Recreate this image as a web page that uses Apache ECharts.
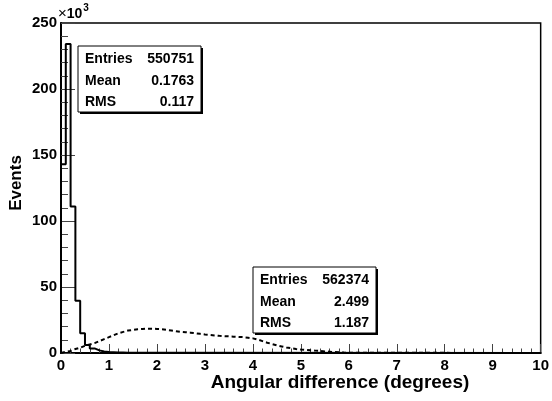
<!DOCTYPE html>
<html>
<head>
<meta charset="utf-8">
<script src="https://cdn.jsdelivr.net/npm/echarts@6/dist/echarts.min.js"></script>
<style>
  html, body { margin: 0; padding: 0; background: #fff; }
  #chart { width: 552px; height: 401px; }
</style>
</head>
<body>
<div id="chart"></div>
<script>
// bin width in degrees, both histograms start at 0
var binWidth = 0.1
// counts per bin, in units of 10^3 events
var narrowCounts = [143, 234, 111, 39.5, 15, 6, 3.5, 2, 1.2, 0.8, 0.6, 0.4, 0.3, 0.2, 0.2, 0.1, 0.1, 0.1, 0.1, 0.1]
var wideCounts = [
  1, 1.5, 3, 4, 5.5, 6.5, 7.5, 9, 10.5, 12,
  13.5, 15, 16, 17, 17.5, 18, 18.2, 18.4, 18.4, 18.2,
  18, 17.5, 17, 16.5, 16, 15.7, 15.4, 15, 14.5, 14,
  13.7, 13.3, 13, 12.8, 12.6, 12.4, 12.2, 12, 11.6, 11.1,
  10.2, 9, 7.8, 6.8, 5.8, 5, 4.2, 3.6, 3, 2.6,
  2.3, 2, 1.8, 1.5, 1.2, 1, 0.7, 0.5, 0.3, 0.2
]
var xTicks = [0, 1, 2, 3, 4, 5, 6, 7, 8, 9, 10]
var yTicks = [0, 50, 100, 150, 200, 250]
var narrowStats = [['Entries', '550751'], ['Mean', '0.1763'], ['RMS', '0.117']]
var wideStats = [['Entries', '562374'], ['Mean', '2.499'], ['RMS', '1.187']]

var FONT = 'Liberation Sans'

function histPoints(counts) {
  var pts = [[0, 0]]
  for (var i = 0; i < counts.length; i++) {
    pts.push([i * binWidth, counts[i]])
  }
  pts.push([counts.length * binWidth, 0])
  pts.push([xTicks[xTicks.length - 1], 0])
  return pts
}

function statBox(x, y, rows) {
  var w = 123, h = 66
  var children = [
    { type: 'rect', shape: { x: x + 2, y: y + 2, width: w, height: h }, style: { fill: '#000' } },
    { type: 'rect', shape: { x: x, y: y, width: w, height: h }, style: { fill: '#fff', stroke: '#000', lineWidth: 1 } }
  ]
  rows.forEach(function (r, i) {
    var cy = y + 13.5 + i * 21.5
    children.push({ type: 'text', x: x + 7, y: cy, style: { text: r[0], font: 'bold 14px ' + FONT, fill: '#000', verticalAlign: 'middle', align: 'left' } })
    children.push({ type: 'text', x: x + w - 7, y: cy, style: { text: r[1], font: 'bold 14px ' + FONT, fill: '#000', verticalAlign: 'middle', align: 'right' } })
  })
  return { type: 'group', children: children, z: 100 }
}

var chart = echarts.init(document.getElementById('chart'))
chart.setOption({
  animation: false,
  grid: { left: 61, right: 5, top: 23, bottom: 48, show: true, borderColor: '#000', borderWidth: 1.5, backgroundColor: 'transparent' },
  xAxis: {
    type: 'value',
    min: xTicks[0],
    max: xTicks[xTicks.length - 1],
    interval: 1,
    axisLine: { onZero: false, lineStyle: { color: '#000', width: 2 } },
    axisTick: { inside: true, length: 9, lineStyle: { color: '#444', width: 1 } },
    minorTick: { show: true, splitNumber: 5, length: 4.5, lineStyle: { color: '#444', width: 1 } },
    splitLine: { show: false },
    axisLabel: { margin: 5, color: '#000', fontFamily: FONT, fontWeight: 'bold', fontSize: 15 }
  },
  yAxis: {
    type: 'value',
    min: yTicks[0],
    max: yTicks[yTicks.length - 1],
    interval: 50,
    axisLine: { show: true, lineStyle: { color: '#000', width: 2 } },
    axisTick: { show: true, inside: true, length: 14, lineStyle: { color: '#444', width: 1 } },
    minorTick: { show: true, splitNumber: 5, length: 7, lineStyle: { color: '#444', width: 1 } },
    splitLine: { show: false },
    axisLabel: { margin: 4, color: '#000', fontFamily: FONT, fontWeight: 'bold', fontSize: 15 }
  },
  series: [
    {
      name: 'narrow',
      type: 'line',
      step: 'end',
      showSymbol: false,
      data: histPoints(narrowCounts),
      lineStyle: { color: '#000', width: 2 }
    },
    {
      name: 'wide',
      type: 'line',
      step: 'end',
      showSymbol: false,
      data: histPoints(wideCounts),
      lineStyle: { color: '#000', width: 2, type: [4, 3] }
    }
  ],
  graphic: [
    statBox(78, 46, narrowStats),
    statBox(253, 267, wideStats),
    {
      type: 'text', x: 340, y: 383,
      style: { text: 'Angular difference (degrees)', font: 'bold 19px ' + FONT, fill: '#000', align: 'center', verticalAlign: 'middle' }
    },
    {
      type: 'text', x: 16, y: 183, rotation: Math.PI / 2,
      style: { text: 'Events', font: 'bold 17px ' + FONT, fill: '#000', align: 'center', verticalAlign: 'middle' }
    },
    {
      type: 'text', x: 58, y: 21,
      style: {
        text: '{x|×}{b|10}{s|3}',
        verticalAlign: 'bottom',
        rich: {
          x: { font: '15px ' + FONT, fill: '#000', verticalAlign: 'bottom' },
          b: { font: 'bold 14px ' + FONT, fill: '#000', verticalAlign: 'bottom' },
          s: { font: 'bold 10px ' + FONT, fill: '#000', verticalAlign: 'top', padding: [0, 0, 8, 1] }
        }
      }
    }
  ]
})
</script>
</body>
</html>
